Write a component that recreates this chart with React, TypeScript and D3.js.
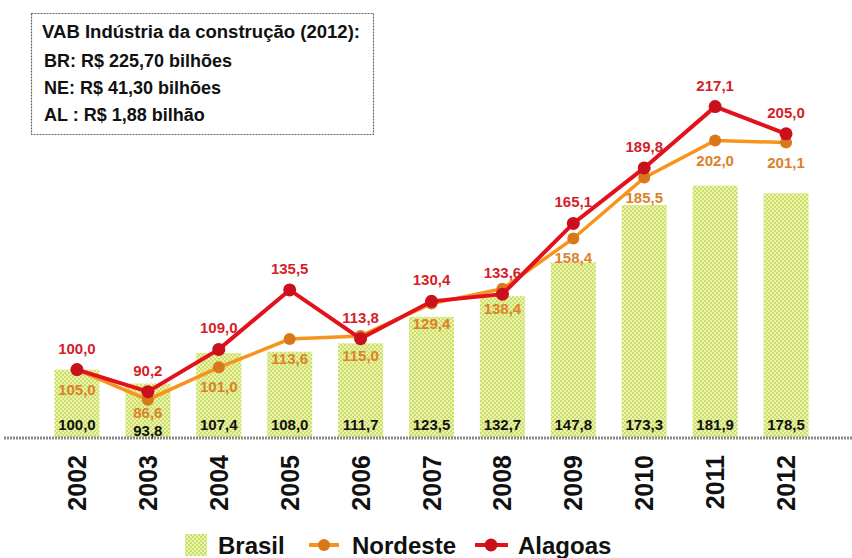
import React from "react";
import * as d3 from "d3";

const years = ["2002","2003","2004","2005","2006","2007","2008","2009","2010","2011","2012"];
const brasil = [100.0, 93.8, 107.4, 108.0, 111.7, 123.5, 132.7, 147.8, 173.3, 181.9, 178.5];
const nordeste = [100.0, 86.6, 101.0, 113.6, 115.0, 129.4, 136.0, 158.4, 185.5, 202.0, 201.1];
const nordesteLabels = ["105,0", "86,6", "101,0", "113,6", "115,0", "129,4", "138,4", "158,4", "185,5", "202,0", "201,1"];
const alagoas = [100.0, 90.2, 109.0, 135.5, 113.8, 130.4, 133.6, 165.1, 189.8, 217.1, 205.0];
const boxTitle = "VAB Indústria da construção (2012):";
const boxLines = ["BR: R$ 225,70 bilhões", "NE: R$ 41,30 bilhões", "AL : R$ 1,88 bilhão"];
const legendLabels = ["Brasil", "Nordeste", "Alagoas"];

const W = 852, H = 558;
const FONT = "'Liberation Sans', Arial, sans-serif";
const fmt = (v: number) => v.toFixed(1).replace(".", ",");

export default function App() {
  const x = d3.scaleBand<string>().domain(years).range([41.5, 821.5]).paddingInner(0.365).paddingOuter(0.1825);
  const y = d3.scaleLinear().domain([70, 230]).range([437, 437 - 160 * 2.246]);
  const cx = (i: number) => (x(years[i]) as number) + x.bandwidth() / 2;
  const line = d3.line<number>().x((_, i) => cx(i)).y((d) => y(d));

  const RED = "#e3111c", REDM = "#c9101c", REDT = "#d41e2a";
  const OR = "#f7941d", ORM = "#d8781a", ORT = "#dc8228";

  const nlY = nordeste.map((v) => Math.min(y(v) + 25, 418));
  const blY = nlY.map((ny) => (ny > 410 ? 436 : 430));

  return (
    <svg width={W} height={H} style={{ position: "absolute", left: 0, top: 0, background: "#fff" }} fontFamily={FONT}>
      <defs>
        <pattern id="dots" width="4" height="4" patternUnits="userSpaceOnUse">
          <rect width="4" height="4" fill="#eff4a0" />
          <circle cx="1" cy="1" r="1" fill="#bcd66a" />
          <circle cx="3" cy="3" r="1" fill="#bcd66a" />
        </pattern>
      </defs>
      <rect x={0} y={0} width={W} height={H} fill="#fff" />

      {/* text box */}
      <rect x={31.5} y={13.5} width={342} height={121} fill="#fff" stroke="#666" strokeWidth={1.2} strokeDasharray="2,1" />
      <text x={42} y={38} fontSize={18} fontWeight="bold" fill="#111" textLength={318} lengthAdjust="spacingAndGlyphs">{boxTitle}</text>
      {boxLines.map((t, i) => (
        <text key={t} x={44} y={67 + i * 27} fontSize={18} fontWeight="bold" fill="#111">{t}</text>
      ))}

      {/* bars */}
      {brasil.map((v, i) => (
        <rect key={"b" + i} x={x(years[i])} y={y(v)} width={x.bandwidth()} height={y(70) - y(v)} fill="url(#dots)" />
      ))}

      {/* axis line */}
      <line x1={4} x2={852} y1={438} y2={438} stroke="#8a8a8a" strokeWidth={3} strokeDasharray="2,1" />

      {/* brasil labels */}
      {brasil.map((v, i) => (
        <text key={"bl" + i} x={cx(i)} y={blY[i]} textAnchor="middle" fontSize={15} fontWeight="bold" fill="#111">{fmt(v)}</text>
      ))}

      {/* nordeste */}
      <path d={line(nordeste) as string} fill="none" stroke={OR} strokeWidth={3.5} />
      {nordeste.map((v, i) => (
        <circle key={"nm" + i} cx={cx(i)} cy={y(v)} r={6} fill={ORM} />
      ))}
      {nordesteLabels.map((t, i) => (
        <text key={"nl" + i} x={cx(i)} y={nlY[i]} textAnchor="middle" fontSize={15} fontWeight="bold" fill={ORT}>{t}</text>
      ))}

      {/* alagoas */}
      <path d={line(alagoas) as string} fill="none" stroke={RED} strokeWidth={4} />
      {alagoas.map((v, i) => (
        <circle key={"am" + i} cx={cx(i)} cy={y(v)} r={6.5} fill={REDM} />
      ))}
      {alagoas.map((v, i) => (
        <text key={"al" + i} x={cx(i)} y={y(v) - 16} textAnchor="middle" fontSize={15} fontWeight="bold" fill={REDT}>{fmt(v)}</text>
      ))}

      {/* year labels */}
      {years.map((yr, i) => (
        <text key={"y" + yr} transform={`translate(${cx(i)},455) rotate(-90)`} textAnchor="end" dominantBaseline="central" fontSize={25} fontWeight="bold" fill="#111">{yr}</text>
      ))}

      {/* legend */}
      <rect x={185} y={534} width={22} height={22} fill="url(#dots)" />
      <text x={218} y={554} fontSize={24} fontWeight="bold" fill="#111">{legendLabels[0]}</text>
      <line x1={309} x2={339} y1={545} y2={545} stroke={OR} strokeWidth={4} />
      <circle cx={324} cy={545} r={6} fill={ORM} />
      <text x={352} y={554} fontSize={24} fontWeight="bold" fill="#111">{legendLabels[1]}</text>
      <line x1={475} x2={508} y1={545} y2={545} stroke={RED} strokeWidth={4} />
      <circle cx={491} cy={545} r={6.5} fill={REDM} />
      <text x={518} y={554} fontSize={24} fontWeight="bold" fill="#111">{legendLabels[2]}</text>
    </svg>
  );
}
